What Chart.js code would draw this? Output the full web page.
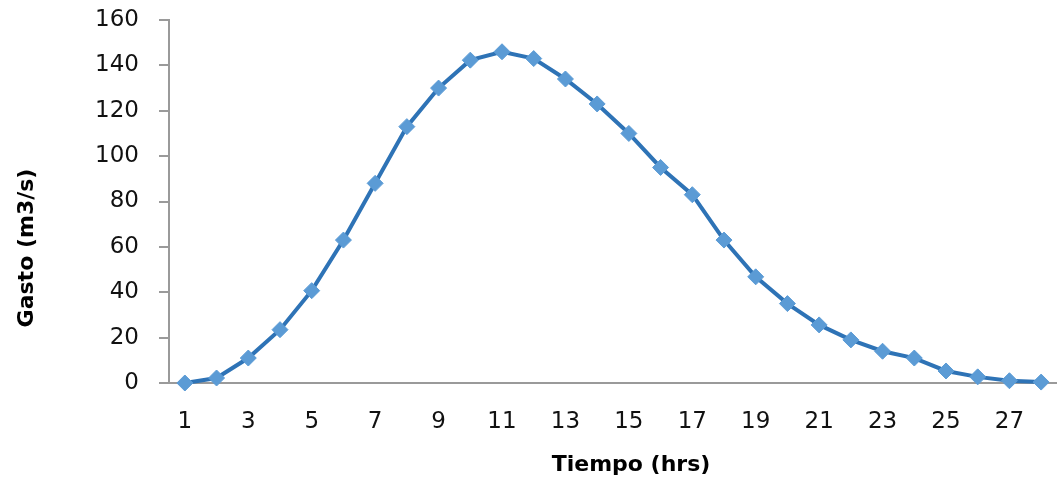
<!DOCTYPE html>
<html>
<head>
<meta charset="utf-8">
<script src="https://cdn.jsdelivr.net/npm/chart.js@4"></script>
<style>
  html, body { margin: 0; padding: 0; background: #fff; overflow: hidden; }
  canvas { display: block; }
</style>
</head>
<body>
<canvas id="hidrograma" width="1057" height="481"></canvas>
<script>
// Data
const horas = [1, 2, 3, 4, 5, 6, 7, 8, 9, 10, 11, 12, 13, 14, 15, 16, 17, 18, 19, 20, 21, 22, 23, 24, 25, 26, 27, 28];
const gasto = [0, 2.2, 11, 23.5, 40.7, 63, 88, 113, 130, 142.3, 146, 143, 134, 123, 110, 95, 83, 63, 46.8, 35, 25.6, 19, 14, 11, 5.3, 2.7, 1, 0.4];
const yTicks = [0, 20, 40, 60, 80, 100, 120, 140, 160];

const tickFont = { family: "'DejaVu Sans', sans-serif", size: 23 };
const titleFont = "bold 22px 'DejaVu Sans', sans-serif";

// Axis titles drawn at the positions Excel used
const axisTitles = {
    id: 'axisTitles',
    afterDraw(chart) {
        const ctx = chart.ctx;
        ctx.save();
        ctx.fillStyle = '#000';
        ctx.font = titleFont;
        ctx.textAlign = 'center';
        ctx.textBaseline = 'middle';
        ctx.fillText('Tiempo (hrs)', 631, 465);
        ctx.translate(27, 248);
        ctx.rotate(-Math.PI / 2);
        ctx.fillText('Gasto (m3/s)', 0, 0);
        ctx.restore();
    }
};

new Chart(document.getElementById('hidrograma'), {
    type: 'line',
    data: {
        labels: horas,
        datasets: [{
            label: 'Gasto',
            data: gasto,
            borderColor: '#2e73b6',
            borderWidth: 4,
            pointStyle: 'rectRot',
            pointRadius: 8,
            pointBackgroundColor: '#5b9bd5',
            pointBorderColor: '#5b9bd5',
            pointBorderWidth: 1,
            tension: 0,
            fill: false,
            clip: false
        }]
    },
    options: {
        responsive: false,
        animation: false,
        layout: { autoPadding: false, padding: { top: 20, right: 0, left: 0, bottom: 0 } },
        plugins: {
            legend: { display: false },
            tooltip: { enabled: false }
        },
        scales: {
            x: {
                offset: true,
                grid: { display: false, drawTicks: false },
                border: { color: '#9a9a9a', width: 2 },
                ticks: {
                    autoSkip: false,
                    maxRotation: 0,
                    padding: 25,
                    color: '#111',
                    font: tickFont,
                    callback: function(value, index) {
                        return index % 2 === 0 ? horas[index] : '';
                    }
                },
                afterFit: function(scale) {
                    scale.height = 98;
                    scale.paddingLeft = 0;
                    scale.paddingRight = 0;
                }
            },
            y: {
                min: 0,
                max: 160,
                afterBuildTicks: function(scale) {
                    scale.ticks = yTicks.map(v => ({ value: v }));
                },
                grid: {
                    drawOnChartArea: false,
                    drawTicks: true,
                    tickLength: 10,
                    color: '#9a9a9a',
                    lineWidth: 2
                },
                border: { color: '#9a9a9a', width: 2 },
                ticks: {
                    padding: 20,
                    color: '#111',
                    font: tickFont
                },
                afterFit: function(scale) {
                    scale.width = 169;
                    scale.paddingTop = 0;
                    scale.paddingBottom = 0;
                }
            }
        }
    },
    plugins: [axisTitles]
});
</script>
</body>
</html>
